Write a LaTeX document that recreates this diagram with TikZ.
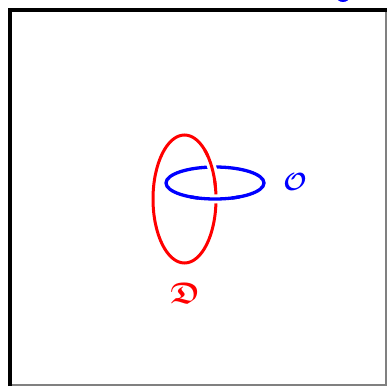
\documentclass[tikz,border=0pt]{standalone}
\usepackage{amsmath,amssymb,bm}
\begin{document}
\begin{tikzpicture}[x=1pt,y=1pt,
  redline/.style={draw=red, line width=3pt},
  blueline/.style={draw=blue, line width=3.3pt},
  halo/.style={draw=white, line width=9pt},
  lbl/.style={inner sep=0pt, font=\fontsize{30}{31}\selectfont}]
\useasboundingbox (0,0) rectangle (387,386);
% frame
\draw[gray, line width=2pt] (386,376) -- (386,0);
\draw[gray, line width=2pt] (10,1.2) -- (387,1.2);
\draw[black, line width=3.5pt] (10,0) -- (10,376) -- (387,376);
% cut-off glyph at top
\fill[blue] (343,390) ellipse [x radius=7, y radius=6];
% blue ellipse
\draw[blueline] (215,203) ellipse [x radius=49, y radius=16];
% red ellipse
\draw[redline] (184.5,187) ellipse [x radius=31.5, y radius=64];
% blue over red at bottom crossing
\draw[halo] ([shift={(250:49 and 16)}]215,203) arc[start angle=250, end angle=290, x radius=49, y radius=16];
\draw[blueline] ([shift={(240:49 and 16)}]215,203) arc[start angle=240, end angle=300, x radius=49, y radius=16];
% red over blue at top crossing
\draw[halo] ([shift={(18:31.5 and 64)}]184.5,187) arc[start angle=18, end angle=42, x radius=31.5, y radius=64];
\draw[redline] ([shift={(10:31.5 and 64)}]184.5,187) arc[start angle=10, end angle=50, x radius=31.5, y radius=64];
% labels
\node[lbl, text=blue] (O) at (295,204) {$\bm{\mathcal{O}}$};
\node[lbl, text=red] (D) at (185,93) {$\bm{\mathfrak{D}}$};
\end{tikzpicture}
\end{document}
